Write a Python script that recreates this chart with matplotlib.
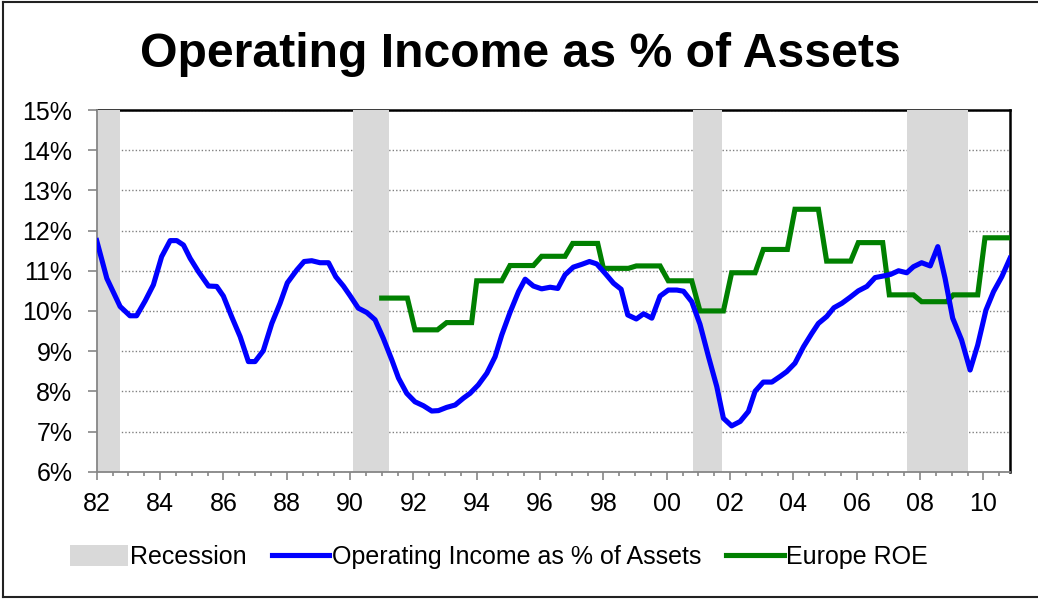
import matplotlib
matplotlib.use("Agg")
import matplotlib.pyplot as plt
from matplotlib.patches import Patch
from matplotlib.lines import Line2D
from matplotlib.ticker import MultipleLocator, FuncFormatter

plt.rcParams['font.family'] = ['Liberation Sans', 'DejaVu Sans']

# ---------------- data ----------------
title = "Operating Income as % of Assets"
series_oi_name = "Operating Income as % of Assets"
series_roe_name = "Europe ROE"
recession_name = "Recession"

recession_start = [1982.00, 1990.08, 2000.84, 2007.60]
recession_end = [1982.74, 1991.24, 2001.74, 2009.51]

oi_years = [1982.00, 1982.32, 1982.74, 1983.05, 1983.26, 1983.53, 1983.79, 1984.05,
            1984.32, 1984.53, 1984.74, 1984.95, 1985.21, 1985.53, 1985.79, 1986.00,
            1986.26, 1986.53, 1986.79, 1987.00, 1987.26, 1987.53, 1987.79, 1988.02,
            1988.32, 1988.55, 1988.79, 1989.05, 1989.32, 1989.55, 1989.79, 1990.00,
            1990.26, 1990.53, 1990.79, 1991.05, 1991.32, 1991.53, 1991.79, 1992.05,
            1992.32, 1992.58, 1992.79, 1993.05, 1993.32, 1993.58, 1993.79, 1994.05,
            1994.32, 1994.58, 1994.79, 1995.05, 1995.32, 1995.53, 1995.79, 1996.05,
            1996.32, 1996.56, 1996.79, 1997.05, 1997.32, 1997.56, 1997.79, 1998.05,
            1998.32, 1998.56, 1998.77, 1999.04, 1999.27, 1999.53, 1999.79, 2000.05,
            2000.32, 2000.53, 2000.79, 2001.05, 2001.32, 2001.58, 2001.79, 2002.05,
            2002.32, 2002.58, 2002.79, 2003.05, 2003.32, 2003.58, 2003.79, 2004.05,
            2004.32, 2004.58, 2004.79, 2005.05, 2005.28, 2005.53, 2005.79, 2006.05,
            2006.32, 2006.58, 2006.84, 2007.07, 2007.32, 2007.58, 2007.79, 2008.05,
            2008.32, 2008.56, 2008.79, 2009.03, 2009.31, 2009.58, 2009.82, 2010.08,
            2010.32, 2010.58, 2010.84]
oi_values = [11.75, 10.81, 10.11, 9.88, 9.88, 10.25, 10.65, 11.35,
             11.75, 11.75, 11.64, 11.31, 10.98, 10.62, 10.61, 10.37,
             9.86, 9.36, 8.74, 8.74, 9.01, 9.69, 10.19, 10.70,
             11.02, 11.23, 11.25, 11.20, 11.20, 10.85, 10.62, 10.38,
             10.07, 9.96, 9.78, 9.32, 8.78, 8.33, 7.95, 7.74,
             7.64, 7.51, 7.52, 7.60, 7.66, 7.83, 7.95, 8.16,
             8.45, 8.86, 9.40, 9.96, 10.48, 10.79, 10.62, 10.55,
             10.59, 10.56, 10.90, 11.09, 11.16, 11.23, 11.17, 10.94,
             10.69, 10.54, 9.90, 9.80, 9.93, 9.82, 10.37, 10.52,
             10.52, 10.49, 10.23, 9.67, 8.86, 8.12, 7.33, 7.14,
             7.25, 7.50, 8.00, 8.23, 8.23, 8.37, 8.49, 8.70,
             9.11, 9.44, 9.69, 9.86, 10.08, 10.19, 10.34, 10.50,
             10.61, 10.83, 10.87, 10.91, 11.00, 10.95, 11.10, 11.20,
             11.12, 11.60, 10.81, 9.82, 9.28, 8.53, 9.15, 10.02,
             10.48, 10.85, 11.31]

roe_years = [1991.00, 1991.81, 1992.05, 1992.76, 1993.05, 1993.84, 1994.00, 1994.79,
             1995.05, 1995.79, 1996.05, 1996.79, 1997.03, 1997.82, 1998.00, 1998.79,
             1999.04, 1999.79, 2000.05, 2000.79, 2001.05, 2001.79, 2002.05, 2002.79,
             2003.05, 2003.81, 2004.05, 2004.79, 2005.05, 2005.81, 2006.05, 2006.82,
             2007.03, 2007.79, 2008.05, 2008.84, 2009.05, 2009.82, 2010.05, 2010.84]
roe_values = [10.32, 10.32, 9.53, 9.53, 9.71, 9.71, 10.75, 10.75,
              11.13, 11.13, 11.36, 11.36, 11.68, 11.68, 11.06, 11.06,
              11.12, 11.12, 10.75, 10.75, 10.00, 10.00, 10.95, 10.95,
              11.53, 11.53, 12.53, 12.53, 11.24, 11.24, 11.70, 11.70,
              10.40, 10.40, 10.23, 10.23, 10.40, 10.40, 11.82, 11.82]

# ---------------- styling ----------------
W, H = 1038, 600
fig = plt.figure(figsize=(W / 100, H / 100), dpi=100)
ax = fig.add_axes([96.7 / W, 1 - 471.7 / H, (1010 - 96.7) / W, (471.7 - 110) / H])

c_rec = '#d9d9d9'
c_blue = '#0000ff'
c_green = '#008000'
c_axis = '#868686'

ax.set_axisbelow(True)
for s, e in zip(recession_start, recession_end):
    ax.axvspan(s, e, color=c_rec, lw=0, zorder=2.6)

ax.plot(oi_years, oi_values, color=c_blue, lw=3.7, zorder=4, solid_joinstyle='round')
ax.plot(roe_years, roe_values, color=c_green, lw=3.7, zorder=3.5, solid_joinstyle='miter')

ax.set_xlim(1982.0, 2010.84)
ax.set_ylim(6, 15)

ax.yaxis.set_major_locator(MultipleLocator(1))
ax.yaxis.set_major_formatter(FuncFormatter(lambda v, p: f"{int(round(v))}%"))
ax.xaxis.set_major_locator(MultipleLocator(2))
ax.xaxis.set_minor_locator(MultipleLocator(0.5))
ax.xaxis.set_major_formatter(FuncFormatter(lambda v, p: f"{int(round(v)) % 100:02d}"))

ax.grid(axis='y', which='major', color='#808080', linestyle=(0, (1, 1.5)), lw=1.0)

for sp in ['top', 'right']:
    ax.spines[sp].set_color('black')
    ax.spines[sp].set_linewidth(1.8)
    ax.spines[sp].set_zorder(2.5)
for sp in ['left', 'bottom']:
    ax.spines[sp].set_color(c_axis)
    ax.spines[sp].set_linewidth(1.3)
    ax.spines[sp].set_zorder(2.7)

ax.tick_params(axis='y', which='major', direction='out', length=6.5, width=1.2,
               color=c_axis, labelsize=18, pad=11, labelcolor='black')
ax.tick_params(axis='x', which='major', direction='out', length=5.5, width=1.2,
               color=c_axis, labelsize=18, pad=9, labelcolor='black')
ax.tick_params(axis='x', which='minor', direction='out', length=3.2, width=1.2,
               color=c_axis)

# title
fig.text(520 / W, 1 - 66.7 / H, title, ha='center', va='baseline',
         fontsize=34.7, fontweight='bold', color='black')

# legend
handles = [Patch(facecolor=c_rec, edgecolor='none'),
           Line2D([], [], color=c_blue, lw=3.7),
           Line2D([], [], color=c_green, lw=3.7)]
labels = [recession_name, series_oi_name, series_roe_name]
fig.legend(handles, labels, loc='center', bbox_to_anchor=(499 / W, 1 - 557 / H),
           ncol=3, frameon=False, fontsize=18, handlelength=2.3, handleheight=0.95,
           handletextpad=0.1, columnspacing=1.0, borderpad=0)

# outer border
bc = '#222222'
fig.add_artist(Line2D([3 / W, 3 / W], [1 - 1.5 / H, 1 - 597 / H], color=bc, lw=1.5,
                      transform=fig.transFigure))
fig.add_artist(Line2D([3 / W, 1.0], [1 - 1.5 / H, 1 - 1.5 / H], color=bc, lw=1.5,
                      transform=fig.transFigure))
fig.add_artist(Line2D([3 / W, 1.0], [1 - 597 / H, 1 - 597 / H], color=bc, lw=1.5,
                      transform=fig.transFigure))

fig.savefig('out.png', dpi=100)
